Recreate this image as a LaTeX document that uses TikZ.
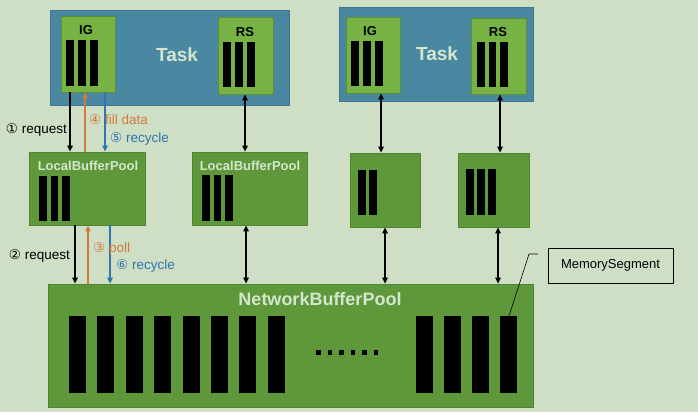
\documentclass[tikz,border=0pt]{standalone}
\usepackage{fontspec}
\setmainfont{Liberation Sans}
\newfontfamily\circfont{DejaVu Sans}
\usepackage{tikz}
\usetikzlibrary{arrows.meta}

\definecolor{bgcol}{HTML}{CFDFC5}
\definecolor{taskblue}{HTML}{4A87A0}
\definecolor{taskedge}{HTML}{3F7690}
\definecolor{gategreen}{HTML}{77B244}
\definecolor{gateedge}{HTML}{5A8F33}
\definecolor{poolgreen}{HTML}{5E983B}
\definecolor{pooledge}{HTML}{4F8530}
\definecolor{titlefg}{HTML}{D5E6CF}
\definecolor{fillorange}{HTML}{D07A3E}
\definecolor{recblue}{HTML}{2F75B0}

% n bars: left x, top y, count, pitch, width, height
\newcommand{\segs}[6]{\foreach \i in {1,...,#3} \fill[black] (#1+\i*#4-#4,#2) rectangle ++(#5,#6);}
\newcommand{\cnum}[1]{{\circfont #1}}

\tikzset{
  task/.style={draw=taskedge, fill=taskblue, line width=0.8pt, inner sep=0pt},
  gate/.style={draw=gateedge, fill=gategreen, line width=0.8pt, inner sep=0pt},
  pool/.style={draw=pooledge, fill=poolgreen, line width=0.8pt, inner sep=0pt},
  title/.style={text=titlefg, font=\fontsize{#1}{#1}\selectfont\bfseries, inner sep=0pt},
  gatename/.style={font=\fontsize{13}{13}\selectfont\bfseries, inner sep=0pt},
  note/.style={font=\fontsize{13.5}{15}\selectfont, inner sep=0pt},
  link/.style={-{Triangle[length=6pt,width=5.5pt]}, line width=1.3pt},
  both/.style={{Triangle[length=6pt,width=5.5pt]}-{Triangle[length=6pt,width=5.5pt]}, line width=1.3pt},
}

\begin{document}
\begin{tikzpicture}[x=1pt, y=-1pt]
\fill[bgcol] (0,0) rectangle (698,412);
\useasboundingbox (0,0) rectangle (698,412);

% tasks
\node[task, minimum width=239pt, minimum height=95pt] (task1) at (169.5,57.5) {};
\node[title=19] (tname1) at (177,55) {Task};
\node[gate, minimum width=54pt, minimum height=76pt] (ig1) at (88,54) {};
\node[gatename] (igname1) at (86,30) {IG};
\node[gate, minimum width=55pt, minimum height=77pt] (rs1) at (245.5,55.5) {};
\node[gatename] (rsname1) at (245,32) {RS};
\segs{66}{40}{3}{12}{7.5}{46}
\segs{223}{42}{3}{12}{7.5}{45}

\node[task, minimum width=194pt, minimum height=94pt] (task2) at (436,54) {};
\node[title=19] (tname2) at (437,54) {Task};
\node[gate, minimum width=54pt, minimum height=76pt] (ig2) at (373,55) {};
\node[gatename] (igname2) at (370,31) {IG};
\node[gate, minimum width=55pt, minimum height=76pt] (rs2) at (498.5,56) {};
\node[gatename] (rsname2) at (498,32) {RS};
\segs{351}{41}{3}{12}{7.5}{45}
\segs{477}{42}{3}{11.5}{7.5}{45}

% local pools
\node[pool, minimum width=116pt, minimum height=73pt] (lbp1) at (87,188.5) {};
\node[title=13] (lbpname1) at (88,166) {LocalBufferPool};
\node[pool, minimum width=115pt, minimum height=73pt] (lbp2) at (249.5,188.5) {};
\node[title=13] (lbpname2) at (250,166) {LocalBufferPool};
\node[pool, minimum width=70pt, minimum height=74pt] (lbp3) at (385,190) {};
\node[pool, minimum width=71pt, minimum height=74pt] (lbp4) at (493.5,190) {};
\segs{39}{176}{3}{11.5}{7.5}{45}
\segs{202}{175}{3}{11.5}{7.5}{46}
\segs{358}{170}{2}{11}{7.5}{45}
\segs{466}{169}{3}{11}{7.5}{46}

% network pool
\node[pool, minimum width=485pt, minimum height=123pt] (nbp) at (290.5,345.5) {};
\node[title=18] (nbpname) at (320,299) {NetworkBufferPool};
\segs{69}{316}{8}{28.4}{17}{77}
\segs{416}{316}{4}{28}{17}{77}
\foreach \i in {0,...,5} \fill[black] (316+\i*11.5,350) rectangle ++(4.5,4.5);
\coordinate (segtop) at (509,316);

% task <-> local
\draw[link] (70,0 |- ig1.south) -- (70,0 |- lbp1.north);
\draw[link, fillorange] (85,0 |- lbp1.north) -- (85,0 |- ig1.south);
\draw[link, recblue] (105,0 |- ig1.south) -- (105,0 |- lbp1.north);
\draw[both] (245,0 |- rs1.south) -- (245,0 |- lbp2.north);
\draw[both] (381,0 |- ig2.south) -- (381,0 |- lbp3.north);
\draw[both] (500,0 |- rs2.south) -- (500,0 |- lbp4.north);

% local <-> network
\draw[link] (75,0 |- lbp1.south) -- (75,0 |- nbp.north);
\draw[link, fillorange] (88,0 |- nbp.north) -- (88,0 |- lbp1.south);
\draw[link, recblue] (110,0 |- lbp1.south) -- (110,0 |- nbp.north);
\draw[both] (246,0 |- lbp2.south) -- (246,0 |- nbp.north);
\draw[both] (385,0 |- lbp3.south) -- (385,0 |- nbp.north);
\draw[both] (498,0 |- lbp4.south) -- (498,0 |- nbp.north);

% step labels
\node[note, anchor=east] (req1) at (67,130) {\cnum{①} request};
\node[note, anchor=west, text=fillorange] (fill4) at (89,120) {\cnum{④} fill data};
\node[note, anchor=west, text=recblue] (rec5) at (110,139) {\cnum{⑤} recycle};
\node[note, anchor=east] (req2) at (70,256) {\cnum{②} request};
\node[note, anchor=west, text=fillorange] (poll3) at (93,249) {\cnum{③} poll};
\node[note, anchor=west, text=recblue] (rec6) at (116,266) {\cnum{⑥} recycle};

% memory segment callout
\node[draw, fill=bgcol, line width=0.8pt, minimum width=125pt, minimum height=35pt,
  font=\fontsize{13}{14}\selectfont] (memseg) at (610.5,265.5) {MemorySegment};
\coordinate (lead) at (538,254);
\draw[line width=0.6pt] (lead) -- ++(-9,0) -- (segtop);
\end{tikzpicture}
\end{document}
